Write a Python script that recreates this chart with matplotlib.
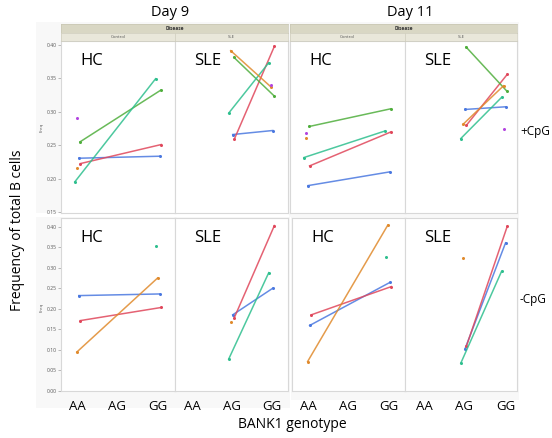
import numpy as np
import matplotlib.pyplot as plt
from matplotlib.patches import Rectangle

nan = np.nan

# series (one per colour) in every panel
series = ['blue', 'red', 'green', 'teal', 'orange', 'purple']
genotypes = ['AA', 'AG', 'GG']

# Day 9, +CpG
d9_pos_hc_aa = [0.2305, 0.2225, 0.255, 0.195, 0.216, 0.291]
d9_pos_hc_gg = [0.2335, 0.251, 0.3325, 0.3495, nan, nan]
d9_pos_sle_ag = [0.266, 0.259, 0.3815, 0.298, 0.3915, nan]
d9_pos_sle_gg = [0.272, 0.398, 0.324, 0.3735, 0.3375, 0.340]
# Day 11, +CpG
d11_pos_hc_aa = [0.1895, 0.219, 0.278, 0.2315, 0.2615, 0.269]
d11_pos_hc_gg = [0.210, 0.270, 0.3045, 0.2715, nan, nan]
d11_pos_sle_ag = [0.3035, 0.280, 0.397, 0.260, 0.281, nan]
d11_pos_sle_gg = [0.3075, 0.356, 0.331, 0.3215, 0.339, 0.274]
# Day 9, -CpG
d9_neg_hc_aa = [0.232, 0.171, nan, nan, 0.094, nan]
d9_neg_hc_gg = [0.236, 0.203, nan, 0.352, 0.275, nan]
d9_neg_sle_ag = [0.185, 0.178, nan, 0.077, 0.167, nan]
d9_neg_sle_gg = [0.250, 0.403, nan, 0.288, nan, nan]
# Day 11, -CpG
d11_neg_hc_aa = [0.159, 0.185, nan, nan, 0.071, nan]
d11_neg_hc_gg = [0.264, 0.254, nan, 0.326, 0.404, nan]
d11_neg_sle_ag = [0.101, 0.109, nan, 0.067, 0.323, nan]
d11_neg_sle_gg = [0.361, 0.401, nan, 0.291, nan, nan]

colors = {'blue': '#4a78e0', 'red': '#e0475b', 'green': '#4fae3c',
          'teal': '#2ebf8e', 'orange': '#e08a2c', 'purple': '#b344e0'}
jitter = [0.02, 0.06, 0.05, -0.08, -0.03, -0.03]

W, H = 552, 438
fig = plt.figure(figsize=(W / 100, H / 100), dpi=100)
plt.rcParams['font.family'] = ['Open Sans', 'DejaVu Sans']


def px_axes(x0, y0, x1, y1, **kw):
    return fig.add_axes([x0 / W, 1 - y1 / H, (x1 - x0) / W, (y1 - y0) / H], **kw)


# faint gray JMP image backgrounds
for r in [(36, 22, 290, 213), (36, 217, 290, 408), (289, 22, 519, 217), (291, 217, 519, 400)]:
    bg = px_axes(*r)
    bg.add_patch(Rectangle((0, 0), 1, 1, color='#f8f8f8', transform=bg.transAxes))
    bg.axis('off')


def panel(x0, x1, y0, y1, ylim, first, second, first_idx, label, show_y, yticks, xlim):
    ax = px_axes(x0, y0, x1, y1)
    ax.set_facecolor('white')
    for i, s in enumerate(series):
        a, b = first[i], second[i]
        xs = [first_idx + jitter[i], 2 + jitter[i]]
        c = colors[s]
        if not np.isnan(a) and not np.isnan(b):
            ax.plot(xs, [a, b], color=c, lw=1.1, alpha=0.85)
        for px, py in [(xs[0], a), (xs[1], b)]:
            if not np.isnan(py):
                ax.plot(px, py, 'o', ms=2.2, color=c, mec='none')
    ax.set_xlim(*xlim)
    ax.set_ylim(*ylim)
    ax.set_xticks([])
    ax.set_yticks(yticks)
    if show_y:
        ax.set_yticklabels(['%.2f' % t for t in yticks], fontsize=3.6, color='#555555')
        ax.tick_params(axis='y', length=2, width=0.4, color='#888888', pad=1)
    else:
        ax.tick_params(axis='y', length=0, labelleft=False)
    for sp in ax.spines.values():
        sp.set_color('#d8d8d8')
        sp.set_linewidth(0.8)
    ax.text(0.17, 0.93, label, transform=ax.transAxes, fontsize=12, va='top', ha='left')
    return ax


top_ylim = (0.1485, 0.406)
bot_ylim = (-0.001, 0.4215)
top_ticks = [0.15, 0.20, 0.25, 0.30, 0.35, 0.40]
bot_ticks = [0.00, 0.05, 0.10, 0.15, 0.20, 0.25, 0.30, 0.35, 0.40]

# top row (+CpG)
panel(61, 175, 41, 213, top_ylim, d9_pos_hc_aa, d9_pos_hc_gg, 0, 'HC', True, top_ticks, (-0.42, 2.4))
panel(175, 288, 41, 213, top_ylim, d9_pos_sle_ag, d9_pos_sle_gg, 1, 'SLE', False, top_ticks, (-0.42, 2.4))
panel(290, 405, 41, 213, top_ylim, d11_pos_hc_aa, d11_pos_hc_gg, 0, 'HC', False, top_ticks, (-0.42, 2.4))
panel(405, 517, 41, 213, top_ylim, d11_pos_sle_ag, d11_pos_sle_gg, 1, 'SLE', False, top_ticks, (-0.45, 2.3))

# bottom row (-CpG)
panel(61, 175, 218, 391, bot_ylim, d9_neg_hc_aa, d9_neg_hc_gg, 0, 'HC', True, bot_ticks, (-0.42, 2.4))
panel(175, 288, 218, 391, bot_ylim, d9_neg_sle_ag, d9_neg_sle_gg, 1, 'SLE', False, bot_ticks, (-0.42, 2.4))
panel(292, 405, 218, 391, bot_ylim, d11_neg_hc_aa, d11_neg_hc_gg, 0, 'HC', False, bot_ticks, (-0.42, 2.4))
panel(405, 517, 218, 391, bot_ylim, d11_neg_sle_ag, d11_neg_sle_gg, 1, 'SLE', False, bot_ticks, (-0.45, 2.3))

# JMP header bands
for x0, x1, xm in [(61, 288, 175), (290, 517, 405)]:
    hb = px_axes(x0, 24, x1, 33)
    hb.set_facecolor('#d9d7c4')
    hb.set_xticks([]); hb.set_yticks([])
    for sp in hb.spines.values():
        sp.set_color('#c8c6b4'); sp.set_linewidth(0.5)
    hb.text(0.5, 0.5, 'Disease', fontsize=3.5, ha='center', va='center', weight='bold', color='#333333')
    for a0, a1, name in [(x0, xm, 'Control'), (xm, x1, 'SLE')]:
        sb = px_axes(a0, 33, a1, 41)
        sb.set_facecolor('#e9e7da')
        sb.set_xticks([]); sb.set_yticks([])
        for sp in sb.spines.values():
            sp.set_color('#cfcdbd'); sp.set_linewidth(0.5)
        sb.text(0.5, 0.5, name, fontsize=3.2, ha='center', va='center', color='#555555')

# category labels under bottom row and other annotations
lab = px_axes(0, 0, W, H)
lab.set_xlim(0, W); lab.set_ylim(H, 0)
lab.axis('off')
for xs in [(77, 117, 158), (192, 232, 272), (308, 348, 389), (424, 464, 506)]:
    for x, g in zip(xs, genotypes):
        lab.text(x, 406, g, fontsize=9.5, ha='center', va='center')

lab.text(170, 13, 'Day 9', fontsize=10.5, ha='center', va='center')
lab.text(410, 13, 'Day 11', fontsize=10.5, ha='center', va='center')
lab.text(292, 425, 'BANK1 genotype', fontsize=10, ha='center', va='center')
lab.text(18, 230, 'Frequency of total B cells', fontsize=10, ha='center', va='center', rotation=90)
lab.text(520, 131, '+CpG', fontsize=8.5, ha='left', va='center')
lab.text(520, 299, '-CpG', fontsize=8.5, ha='left', va='center')
lab.text(42, 127, 'Freq', fontsize=3.2, ha='center', va='center', rotation=90, color='#555555')
lab.text(42, 307, 'Freq', fontsize=3.2, ha='center', va='center', rotation=90, color='#555555')

fig.savefig('out.png', dpi=100)
